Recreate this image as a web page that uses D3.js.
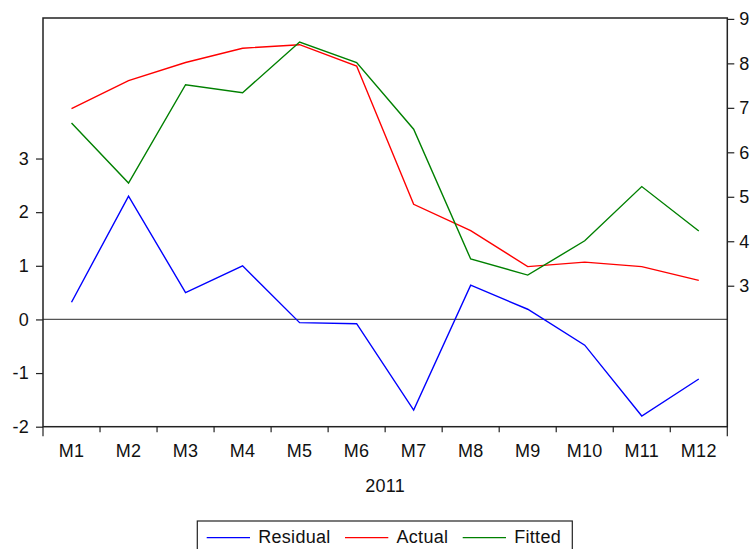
<!DOCTYPE html>
<html>
<head>
<meta charset="utf-8">
<script src="https://cdn.jsdelivr.net/npm/d3@7"></script>
<style>
  html, body { margin: 0; padding: 0; background: #fff; }
  svg { display: block; }
  text { font-family: "Liberation Sans", Arial, Helvetica, sans-serif; fill: #111; letter-spacing: 0.3px; }
</style>
</head>
<body>
<svg id="chart" width="755" height="549"></svg>
<script>
// Monthly categories for 2011
const months = ["M1","M2","M3","M4","M5","M6","M7","M8","M9","M10","M11","M12"];
// Actual and fitted values (right axis), residual = actual - fitted (left axis)
const actual   = [6.98, 7.61, 8.02, 8.34, 8.42, 7.94, 4.83, 4.24, 3.43, 3.53, 3.43, 3.12];
const fitted   = [6.66, 5.31, 7.52, 7.34, 8.48, 8.02, 6.52, 3.60, 3.24, 4.01, 5.23, 4.23];
const residual = [0.32, 2.30, 0.50, 1.00, -0.06, -0.08, -1.69, 0.64, 0.19, -0.48, -1.80, -1.11];
// Axis tick values
const leftTicks  = [-2, -1, 0, 1, 2, 3];
const rightTicks = [3, 4, 5, 6, 7, 8, 9];
const seriesNames = ["Residual", "Actual", "Fitted"];
const seriesColors = ["#0000ff", "#ff0000", "#008000"];

const svg = d3.select("#chart");
const L = 43, R = 727.3, T = 18, B = 426.7;

const x = d3.scaleBand().domain(months).range([L, R]).padding(0);
const yL = d3.scaleLinear().domain([-2, 5.62]).range([B, T]);
const yR = d3.scaleLinear().domain([-0.17, 9.02]).range([B, T]);

const fs = 18;
const plain = d => String(d);   // hyphen-minus labels

// Zero reference line for residuals
svg.append("line")
  .attr("x1", L).attr("x2", R)
  .attr("y1", yL(0)).attr("y2", yL(0))
  .attr("stroke", "#555").attr("stroke-width", 1.2);

// Series lines
const cx = m => x(m) + x.bandwidth() / 2;
const lineL = d3.line().x((d, i) => cx(months[i])).y(d => yL(d));
const lineR = d3.line().x((d, i) => cx(months[i])).y(d => yR(d));

svg.append("path").datum(residual).attr("d", lineL)
  .attr("fill", "none").attr("stroke", seriesColors[0]).attr("stroke-width", 1.4);
svg.append("path").datum(actual).attr("d", lineR)
  .attr("fill", "none").attr("stroke", seriesColors[1]).attr("stroke-width", 1.4);
svg.append("path").datum(fitted).attr("d", lineR)
  .attr("fill", "none").attr("stroke", seriesColors[2]).attr("stroke-width", 1.4);

// Frame
svg.append("rect")
  .attr("x", L).attr("y", T).attr("width", R - L).attr("height", B - T)
  .attr("fill", "none").attr("stroke", "#222").attr("stroke-width", 1.5);

// Left axis
const gL = svg.append("g").attr("transform", `translate(${L},0)`)
  .call(d3.axisLeft(yL).tickValues(leftTicks).tickSize(7).tickPadding(7).tickFormat(plain));
gL.select(".domain").remove();
gL.selectAll("line").attr("stroke", "#222").attr("stroke-width", 1.2);
gL.selectAll("text").attr("font-size", fs).style("font-family", "Liberation Sans, Arial, sans-serif").attr("fill", "#111");

// Right axis
const gR = svg.append("g").attr("transform", `translate(${R},0)`)
  .call(d3.axisRight(yR).tickValues(rightTicks).tickSize(7).tickPadding(5).tickFormat(plain));
gR.select(".domain").remove();
gR.selectAll("line").attr("stroke", "#222").attr("stroke-width", 1.2);
gR.selectAll("text").attr("font-size", fs).style("font-family", "Liberation Sans, Arial, sans-serif").attr("fill", "#111");

// Bottom axis: ticks at category boundaries, labels centred in each band
const gB = svg.append("g").attr("transform", `translate(0,${B})`);
const bounds = months.map(m => x(m)).concat([R]);
gB.selectAll("line.tk").data(bounds).join("line")
  .attr("x1", d => d).attr("x2", d => d)
  .attr("y1", 0).attr("y2", (d, i) => (i === 0 || i === bounds.length - 1) ? 9.5 : 5.5)
  .attr("stroke", "#222").attr("stroke-width", 1.2);
gB.selectAll("text.lb").data(months).join("text")
  .attr("x", d => cx(d)).attr("y", 30)
  .attr("text-anchor", "middle").attr("font-size", fs).text(d => d);

// Year label
svg.append("text").attr("x", (L + R) / 2).attr("y", 492)
  .attr("text-anchor", "middle").attr("font-size", fs).text("2011");

// Legend
const lg = svg.append("g");
lg.append("rect").attr("x", 197.3).attr("y", 521).attr("width", 375).attr("height", 40)
  .attr("fill", "#fff").attr("stroke", "#222").attr("stroke-width", 1.2);
const legX = [206.7, 345, 462.7];
seriesNames.forEach((n, i) => {
  lg.append("line").attr("x1", legX[i]).attr("x2", legX[i] + 43.3)
    .attr("y1", 537.7).attr("y2", 537.7)
    .attr("stroke", seriesColors[i]).attr("stroke-width", 1.3);
  lg.append("text").attr("x", legX[i] + 51.5).attr("y", 543)
    .attr("font-size", fs).text(n);
});
</script>
</body>
</html>
